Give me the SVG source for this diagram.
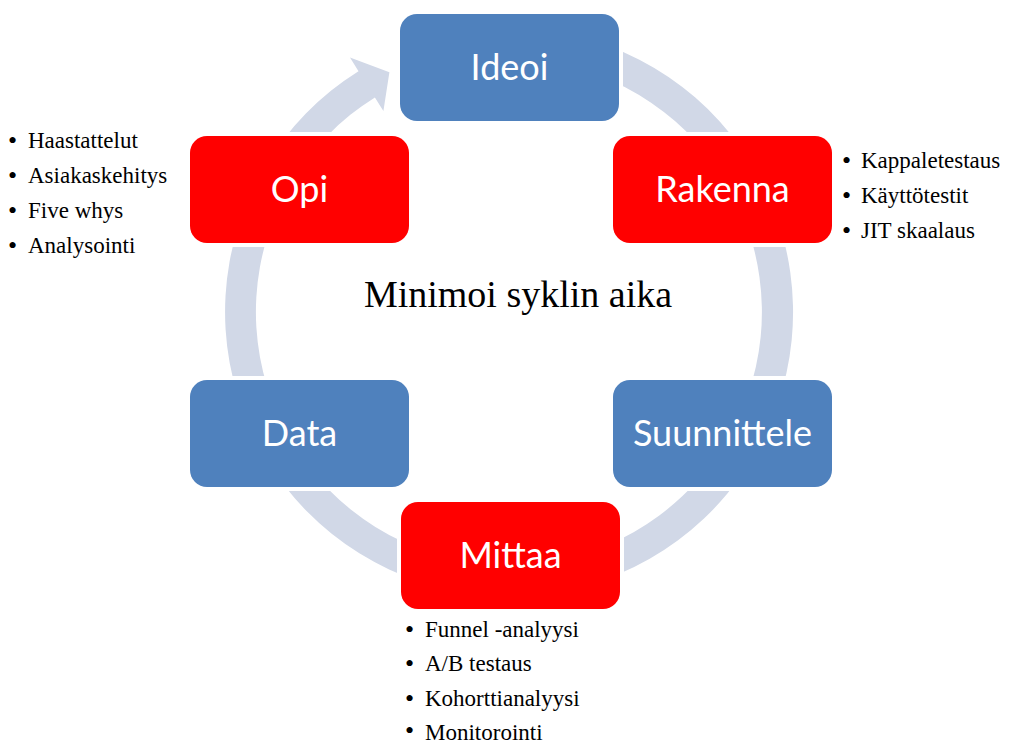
<svg xmlns="http://www.w3.org/2000/svg" width="1009" height="745" viewBox="0 0 1009 745">
  <style>
    .node rect { stroke: #ffffff; stroke-width: 8; paint-order: stroke; }
    .blue rect { fill: #4F81BD; }
    .red rect { fill: #FF0000; }
    .node text { font-family: Lato, "Open Sans", "Liberation Sans", sans-serif; font-size: 36px; fill: #ffffff; text-anchor: middle; }
    .list text { font-family: "Liberation Serif", "Times New Roman", serif; font-size: 23px; fill: #000000; }
    .list .dot { font-size: 26px; }
    .title { font-family: "Liberation Serif", "Times New Roman", serif; font-size: 38px; fill: #000000; text-anchor: middle; }
    .ring { fill: #D1D8E7; }
  </style>

  <rect width="1009" height="745" fill="#ffffff"/>

  <!-- circular arrow running clockwise behind the nodes -->
  <g id="connectors">
    <path class="ring" d="M 509 28 A 284 284 0 1 1 358.5 71.2 L 350 57.6 L 389.4 72.2 L 383.4 111 L 374.9 97.4 A 253 253 0 1 0 509 59 Z"/>
  </g>

  <text class="title" x="518" y="307">Minimoi syklin aika</text>

  <g id="ideoi" class="node blue">
    <rect x="400" y="14" width="219" height="107" rx="17"/>
    <text x="509.5" y="80">Ideoi</text>
  </g>
  <g id="rakenna" class="node red">
    <rect x="613" y="136" width="219" height="107" rx="17"/>
    <text x="722.5" y="202">Rakenna</text>
  </g>
  <g id="suunnittele" class="node blue">
    <rect x="613" y="380" width="219" height="107" rx="17"/>
    <text x="722.5" y="446">Suunnittele</text>
  </g>
  <g id="mittaa" class="node red">
    <rect x="401" y="502" width="219" height="107" rx="17"/>
    <text x="510.5" y="568">Mittaa</text>
  </g>
  <g id="data" class="node blue">
    <rect x="190" y="380" width="219" height="107" rx="17"/>
    <text x="299.5" y="446">Data</text>
  </g>
  <g id="opi" class="node red">
    <rect x="190" y="136" width="219" height="107" rx="17"/>
    <text x="299.5" y="202">Opi</text>
  </g>

  <!-- bullet lists -->
  <g id="opi-list" class="list">
    <text class="dot" x="8" y="149">•</text><text x="28" y="148">Haastattelut</text>
    <text class="dot" x="8" y="184">•</text><text x="28" y="183">Asiakaskehitys</text>
    <text class="dot" x="8" y="219">•</text><text x="28" y="218">Five whys</text>
    <text class="dot" x="8" y="254">•</text><text x="28" y="253">Analysointi</text>
  </g>
  <g id="rakenna-list" class="list">
    <text class="dot" x="842" y="169">•</text><text x="861" y="168">Kappaletestaus</text>
    <text class="dot" x="842" y="204">•</text><text x="861" y="203">Käyttötestit</text>
    <text class="dot" x="842" y="239">•</text><text x="861" y="238">JIT skaalaus</text>
  </g>
  <g id="mittaa-list" class="list">
    <text class="dot" x="405" y="638">•</text><text x="425" y="637">Funnel -analyysi</text>
    <text class="dot" x="405" y="672">•</text><text x="425" y="671">A/B testaus</text>
    <text class="dot" x="405" y="707">•</text><text x="425" y="706">Kohorttianalyysi</text>
    <text class="dot" x="405" y="739">•</text><text x="425" y="740">Monitorointi</text>
  </g>
</svg>
